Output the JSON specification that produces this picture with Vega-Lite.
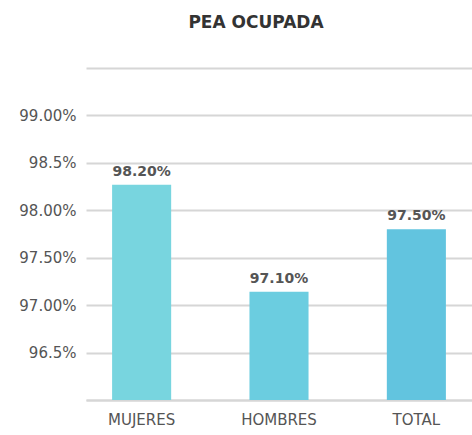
{
  "$schema": "https://vega.github.io/schema/vega-lite/v6.json",
  "autosize": "none",
  "width": 386,
  "height": 332,
  "padding": {"left": 86, "top": 68, "right": 0, "bottom": 35},
  "background": "white",
  "title": {
    "text": "PEA OCUPADA",
    "font": "DejaVu Sans",
    "fontSize": 17,
    "fontWeight": "bold",
    "color": "#333333",
    "anchor": "middle",
    "dx": -23,
    "offset": 36
  },
  "config": {
    "view": {"stroke": null},
    "axis": {"labelFont": "DejaVu Sans", "labelColor": "#555555"}
  },
  "data": {
    "values": [
      {"grupo": "MUJERES", "valor": 98.27, "etiqueta": "98.20%", "color": "#78d5df"},
      {"grupo": "HOMBRES", "valor": 97.14, "etiqueta": "97.10%", "color": "#6bcde0"},
      {"grupo": "TOTAL", "valor": 97.8, "etiqueta": "97.50%", "color": "#62c4df"}
    ]
  },
  "encoding": {
    "x": {
      "field": "grupo",
      "type": "nominal",
      "sort": null,
      "scale": {"paddingInner": 0.57, "paddingOuter": 0.19},
      "axis": {
        "title": null,
        "labelAngle": 0,
        "labelFontSize": 15,
        "labelPadding": 12,
        "ticks": false,
        "domainColor": "#d6d6d6",
        "domainWidth": 2
      }
    },
    "y": {
      "field": "valor",
      "type": "quantitative",
      "scale": {"domain": [96, 99.5], "nice": false, "zero": false},
      "axis": {
        "title": null,
        "values": [96, 96.5, 97, 97.5, 98, 98.5, 99, 99.5],
        "labelExpr": "datum.value == 99 ? '99.00%' : datum.value == 98.5 ? '98.5%' : datum.value == 98 ? '98.00%' : datum.value == 97.5 ? '97.50%' : datum.value == 97 ? '97.00%' : datum.value == 96.5 ? '96.5%' : ''",
        "labelFontSize": 15,
        "labelPadding": 10,
        "ticks": false,
        "domain": false,
        "gridColor": "#d6d6d6",
        "gridWidth": 2
      }
    }
  },
  "layer": [
    {
      "mark": {"type": "bar", "clip": true},
      "encoding": {
        "color": {"field": "color", "type": "nominal", "scale": null}
      }
    },
    {
      "mark": {
        "type": "text",
        "dy": -6,
        "baseline": "bottom",
        "font": "DejaVu Sans",
        "fontSize": 14,
        "fontWeight": "bold",
        "color": "#555555"
      },
      "encoding": {"text": {"field": "etiqueta"}}
    }
  ]
}
